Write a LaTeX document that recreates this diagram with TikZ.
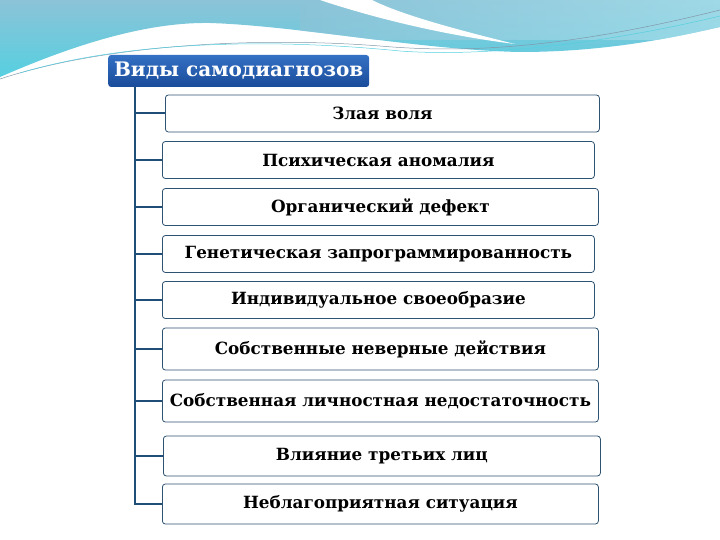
\documentclass[tikz,border=0pt]{standalone}
\usepackage{fontspec}
\setmainfont{DejaVu Serif}
\usetikzlibrary{positioning}

\definecolor{navy}{HTML}{1F4E79}
\definecolor{frame}{HTML}{2E5372}
\definecolor{titletop}{HTML}{3470C4}
\definecolor{titlebot}{HTML}{1A4C9A}
\definecolor{skyA}{HTML}{8CC3D8}
\definecolor{skyB}{HTML}{A8E1EC}
\definecolor{skyC}{HTML}{55D0E0}

\tikzset{
  item/.style={draw=frame, line width=0.8pt, rounded corners=3pt, fill=white,
    minimum width=434pt, minimum height=37pt, anchor=west,
    font=\fontsize{16.8}{19}\selectfont\bfseries},
  heading/.style={rounded corners=3pt, top color=titletop, bottom color=titlebot,
    text=white, minimum width=261pt, minimum height=32pt, anchor=west, inner xsep=4pt,
    font=\fontsize{20}{22}\selectfont\bfseries},
  branch/.style={draw=navy, line width=2pt}
}

\begin{document}
\begin{tikzpicture}[x=1pt,y=-1pt]
  \useasboundingbox (0,0) rectangle (720,540);
  % wave at the top
  \begin{scope}
    \clip (0,0) -- (0,77) .. controls (80,42) and (150,22) .. (210,23)
       .. controls (300,26) and (420,50) .. (520,52) .. controls (610,52) and (680,36) .. (720,27) -- (720,0) -- cycle;
    \shade[top color=skyA, bottom color=skyC] (0,0) rectangle (720,78);
    \shade[left color=skyA, right color=skyB, opacity=0.7] (300,0) rectangle (720,40);
  \end{scope}
  \fill[white] (320,0) .. controls (380,20) and (450,36) .. (515,44) .. controls (450,28) and (400,14) .. (372,0) -- cycle;
  \draw[frame!60, line width=0.5pt] (0,79) .. controls (100,46) and (250,36) .. (380,46) .. controls (460,53) and (560,50) .. (720,10);
  \draw[skyC, line width=0.5pt] (20,73) .. controls (120,43) and (260,37) .. (400,51) .. controls (480,57) and (600,45) .. (720,16);

  % heading and items
  \node[heading] (head) at (108,71) {Виды самодиагнозов};
  \node[item] (b1) at (165,113.5) {Злая воля};
  \node[item, minimum width=432pt] (b2) at (162,160) {Психическая аномалия};
  \node[item, minimum width=436pt] (b3) at (162,207) {Органический дефект};
  \node[item, minimum width=432pt] (b4) at (162,254) {Генетическая запрограммированность};
  \node[item, minimum width=432pt] (b5) at (162,300) {Индивидуальное своеобразие};
  \node[item, minimum width=436pt, minimum height=42pt] (b6) at (162,349) {Собственные неверные действия};
  \node[item, minimum width=436pt, minimum height=42pt] (b7) at (162,401) {Собственная личностная недостаточность};
  \node[item, minimum width=437pt, minimum height=40pt] (b8) at (163,456) {Влияние третьих лиц};
  \node[item, minimum width=436pt, minimum height=40pt] (b9) at (162,504) {Неблагоприятная ситуация};

  % trunk and branches
  \coordinate (top) at (135,87);
  \coordinate (bot) at (135,505);
  \draw[branch] (top) -- (bot);
  \draw[branch] (b1.west -| top) -- (b1.west);
  \draw[branch] (b2.west -| top) -- (b2.west);
  \draw[branch] (b3.west -| top) -- (b3.west);
  \draw[branch] (b4.west -| top) -- (b4.west);
  \draw[branch] (b5.west -| top) -- (b5.west);
  \draw[branch] (b6.west -| top) -- (b6.west);
  \draw[branch] (b7.west -| top) -- (b7.west);
  \draw[branch] (b8.west -| top) -- (b8.west);
  \draw[branch] (b9.west -| top) -- (b9.west);
\end{tikzpicture}
\end{document}
